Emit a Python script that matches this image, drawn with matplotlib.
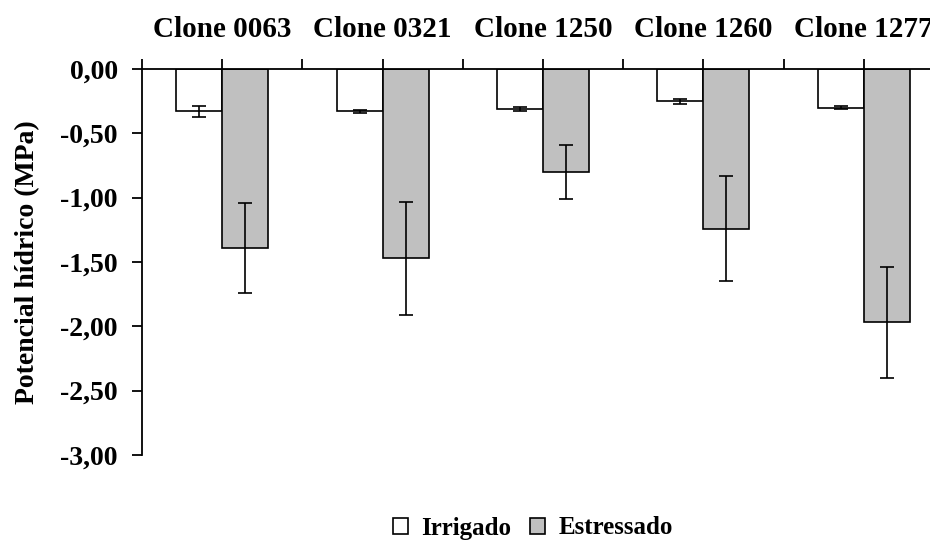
"""Leaf water potential of five clones, irrigated vs stressed."""

import matplotlib
matplotlib.use("Agg")
import matplotlib.pyplot as plt
import numpy as np


CLONES = ["Clone 0063", "Clone 0321", "Clone 1250", "Clone 1260", "Clone 1277"]
IRRIGADO = [-0.33, -0.33, -0.31, -0.25, -0.30]
IRRIGADO_ERR = [0.04, 0.01, 0.015, 0.02, 0.01]
ESTRESSADO = [-1.39, -1.47, -0.80, -1.24, -1.97]
ESTRESSADO_ERR = [0.35, 0.44, 0.21, 0.41, 0.43]
Y_TICKS = [0.0, -0.5, -1.0, -1.5, -2.0, -2.5, -3.0]
Y_TICK_LABELS = ["0,00", "-0,50", "-1,00", "-1,50", "-2,00", "-2,50", "-3,00"]


def main():
    plt.rcParams["font.family"] = ["Liberation Serif", "DejaVu Serif"]
    plt.rcParams["font.weight"] = "bold"

    W, H = 930, 543
    fig = plt.figure(figsize=(W / 100, H / 100), dpi=100)
    # axes spans past the right edge, like the original (last group is cut)
    ax = fig.add_axes([142 / W, (H - 455) / H, 802 / W, (455 - 69) / H])

    x = np.arange(len(CLONES)) + 0.5
    width = 0.287
    err_kw = dict(ecolor="black", elinewidth=1.2, capsize=5, capthick=1.2)

    ax.bar(x - width / 2, IRRIGADO, width, yerr=IRRIGADO_ERR, color="white",
           edgecolor="black", linewidth=1.2, label="Irrigado", error_kw=err_kw)
    ax.bar(x + width / 2, ESTRESSADO, width, yerr=ESTRESSADO_ERR, color="#c0c0c0",
           edgecolor="black", linewidth=1.2, label="Estressado", error_kw=err_kw)

    ax.set_xlim(0, len(CLONES))
    ax.set_ylim(-3.0, 0.0)

    ax.spines["bottom"].set_visible(False)
    ax.spines["right"].set_visible(False)
    for side in ("top", "left"):
        ax.spines[side].set_linewidth(1.3)

    ax.xaxis.tick_top()
    ax.set_xticks(x, CLONES)
    ax.set_xticks(np.arange(len(CLONES) + 1), minor=True)
    ax.tick_params(axis="x", which="both", direction="out", length=7.5, width=1.3,
                   labelsize=21, pad=11)

    ax.set_yticks(Y_TICKS, Y_TICK_LABELS)
    ax.tick_params(axis="y", direction="out", length=7.5, width=1.3, labelsize=20, pad=10)
    ax.set_ylabel("Potencial hídrico (MPa)", fontsize=20, fontweight="bold")
    ax.yaxis.set_label_coords(-0.127, 0.5)

    fig.legend(loc="center", bbox_to_anchor=(533 / W, 1 - 528 / H), ncol=2,
               frameon=False, fontsize=18, handlelength=0.6, handleheight=0.6,
               handletextpad=0.55, columnspacing=0.75)

    fig.savefig("out.png", dpi=100)


if __name__ == "__main__":
    main()
